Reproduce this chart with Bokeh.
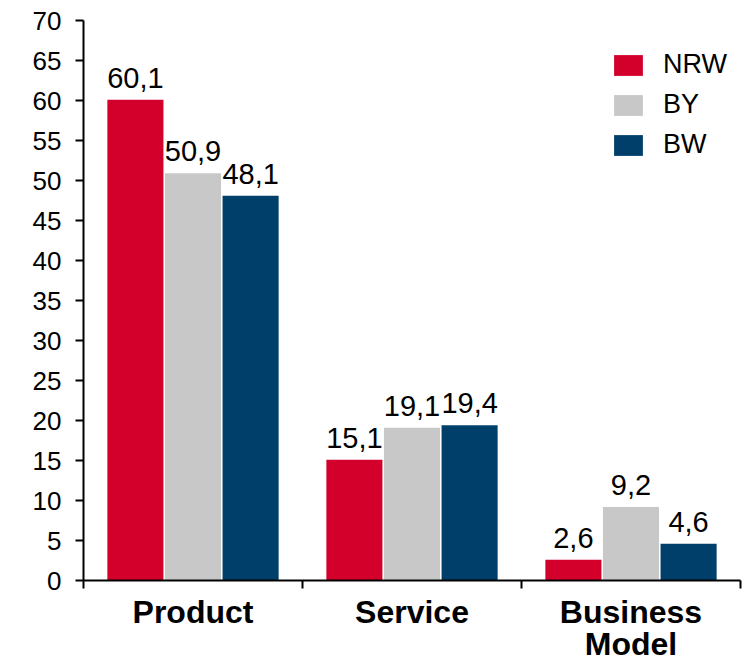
from bokeh.plotting import figure
from bokeh.models import (ColumnDataSource, Range1d, LinearAxis, BoxAnnotation,
                          FixedTicker, SingleIntervalTicker, LabelSet, Legend, LegendItem)
from bokeh.core.properties import value
from bokeh.transform import dodge
from bokeh.embed import file_html
from bokeh.resources import INLINE

categories = ["Product", "Service", "Business\nModel"]
series = ["NRW", "BY", "BW"]
nrw = [60.1, 15.1, 2.6]
by = [50.9, 19.1, 9.2]
bw = [48.1, 19.4, 4.6]
colors = ["#D3002C", "#C8C8C8", "#003F6A"]

FONT = "Liberation Sans"

centers = [i + 0.5 for i in range(len(categories))]
data = dict(x=centers, NRW=nrw, BY=by, BW=bw)
for s in series:
    data[s + "_lbl"] = [f"{v:.1f}".replace(".", ",") for v in data[s]]
src = ColumnDataSource(data)

p = figure(x_range=Range1d(0, len(categories)), y_range=Range1d(0, 70),
           width=747, height=665, output_backend="svg", toolbar_location=None,
           x_axis_location=None, min_border_left=83, min_border_top=20,
           min_border_bottom=85, min_border_right=7)
p.outline_line_color = None
p.xgrid.visible = False
p.ygrid.visible = False

# decorative grey strip at the left edge
p.add_layout(BoxAnnotation(left=0, right=4, left_units="canvas", right_units="canvas",
                           bottom=0, top=70, fill_color="#DCDCDC", fill_alpha=1,
                           line_color=None))

offsets = [-0.263, 0.0, 0.263]
items = []
for s, off, c in zip(series, offsets, colors):
    r = p.vbar(x=dodge("x", off), top=s, width=0.256, source=src,
               fill_color=c, line_color=None)
    items.append(LegendItem(label=s, renderers=[r]))
for s, off in zip(series, offsets):
    lbl = LabelSet(x=dodge("x", off), y=s, text=s + "_lbl", source=src,
                   text_align="center", text_baseline="alphabetic", y_offset=12,
                   text_font=value(FONT), text_font_size="29px", text_color="black",
                   background_fill_color="white")
    p.add_layout(lbl)

# y axis
ya = p.yaxis[0]
ya.ticker = SingleIntervalTicker(interval=5)
ya.axis_line_width = 2
ya.axis_line_color = "black"
ya.major_tick_out = 8
ya.major_tick_in = 0
ya.major_tick_line_width = 2
ya.minor_tick_line_color = None
ya.major_label_text_font = FONT
ya.major_label_text_font_size = "26px"
ya.major_label_text_color = "black"
ya.major_label_standoff = 14

# x axis: category labels at the centres, ticks at the category boundaries
xa = LinearAxis(ticker=FixedTicker(ticks=centers,
                                   minor_ticks=list(range(len(categories) + 1))))
xa.major_label_overrides = {c: lab for c, lab in zip(centers, categories)}
xa.axis_line_width = 2
xa.axis_line_color = "black"
xa.major_tick_line_color = None
xa.major_tick_out = 0
xa.major_tick_in = 0
xa.minor_tick_out = 8
xa.minor_tick_in = 0
xa.minor_tick_line_width = 2
xa.minor_tick_line_color = "black"
xa.major_label_text_font = FONT
xa.major_label_text_font_style = "bold"
xa.major_label_text_font_size = "32px"
xa.major_label_text_color = "black"
xa.major_label_standoff = 5
xa.major_label_text_line_height = 0.9
p.add_layout(xa, "below")

leg = Legend(items=items, location=(527, 420), orientation="vertical")
leg.glyph_width = 36
leg.glyph_height = 26
leg.label_text_font = FONT
leg.label_text_font_size = "27px"
leg.label_text_color = "black"
leg.label_standoff = 17
leg.spacing = 9
leg.padding = 0
leg.margin = 0
leg.border_line_color = None
leg.background_fill_color = None
p.add_layout(leg)

open("out.html", "w").write(file_html(p, INLINE))
